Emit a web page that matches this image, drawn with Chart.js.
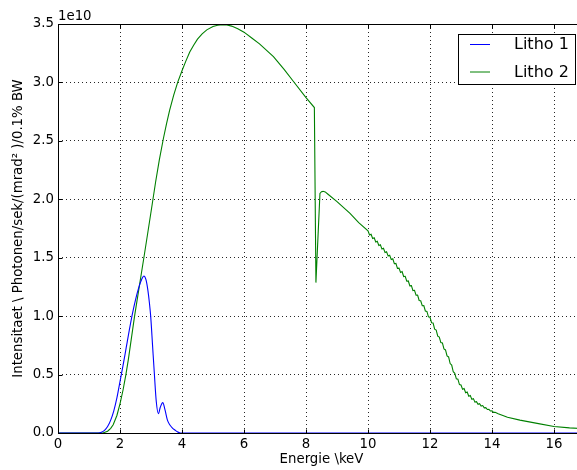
<!DOCTYPE html>
<html>
<head>
<meta charset="utf-8">
<script src="https://cdn.jsdelivr.net/npm/chart.js@4.4.0/dist/chart.umd.min.js"></script>
<style>
  html, body { margin: 0; padding: 0; background: #fff; overflow: hidden; }
  #wrap { width: 577px; height: 470px; overflow: hidden; }
</style>
</head>
<body>
<div id="wrap"><canvas id="chart1" width="590" height="470"></canvas></div>
<script>
// Daten (Intensitaet in Einheiten von 1e10)
const seriesNames = ['Litho 1', 'Litho 2'];
const seriesColors = ['#0000ff', '#008000'];

const litho1Energy = [0, 1.3, 1.4, 1.5, 1.6, 1.7, 1.8, 1.9, 2.0, 2.1, 2.2, 2.3, 2.4, 2.5, 2.6, 2.7, 2.77, 2.84, 2.9, 2.95, 2.99, 3.05, 3.11, 3.17, 3.24, 3.3, 3.38, 3.45, 3.53, 3.61, 3.7, 3.77, 3.85, 3.95, 17];
const litho1Flux = [0, 0, 0.006, 0.022, 0.055, 0.11, 0.19, 0.3, 0.44, 0.58, 0.73, 0.88, 1.02, 1.14, 1.24, 1.315, 1.344, 1.31, 1.22, 1.11, 1.0, 0.75, 0.5, 0.27, 0.165, 0.22, 0.26, 0.2, 0.11, 0.068, 0.04, 0.026, 0.01, 0, 0];

const litho2Energy = [0, 1.45, 1.6, 1.7, 1.78, 1.9, 2.0, 2.1, 2.19, 2.27, 2.47, 2.62, 2.77, 2.9, 3.04, 3.15, 3.27, 3.4, 3.5, 3.6, 3.73, 3.86, 4.0, 4.12, 4.25, 4.38, 4.5, 4.65, 4.8, 5.0, 5.15, 5.3, 5.45, 5.6, 5.8, 6.0, 6.25, 6.5, 6.95, 7.3, 7.59, 8.0, 8.27, 8.32, 8.45, 8.5, 8.55, 8.62, 8.7, 9.0, 9.42, 9.7,
  10.0, 10.05, 10.1, 10.15, 10.2, 10.25, 10.3, 10.35, 10.4, 10.45, 10.5, 10.55, 10.6, 10.65, 10.7, 10.75, 10.8, 10.85, 10.9, 10.95,
  11.0, 11.05, 11.1, 11.15, 11.2, 11.25, 11.3, 11.35, 11.4, 11.45, 11.5, 11.55, 11.6, 11.65, 11.7, 11.75, 11.8, 11.85, 11.9, 11.95,
  12.0, 12.05, 12.1, 12.15, 12.2, 12.25, 12.3, 12.35, 12.4, 12.45, 12.5, 12.55, 12.6, 12.65, 12.7, 12.75, 12.8, 12.85, 12.9, 12.95,
  13.0, 13.05, 13.1, 13.15, 13.2, 13.25, 13.3, 13.35, 13.4, 13.45, 13.5, 13.55, 13.6, 13.65, 13.7, 13.75, 13.8, 13.85, 13.9, 13.95,
  14.0, 14.05, 14.1, 14.2, 14.5, 14.9, 15.5, 16.0, 16.5, 17.0];
const litho2Flux = [0, 0, 0.015, 0.04, 0.07, 0.15, 0.25, 0.37, 0.5, 0.63, 1.0, 1.25, 1.5, 1.72, 1.96, 2.15, 2.34, 2.52, 2.645, 2.76, 2.89, 3.0, 3.1, 3.18, 3.26, 3.32, 3.37, 3.415, 3.45, 3.478, 3.49, 3.495, 3.492, 3.482, 3.46, 3.43, 3.38, 3.33, 3.22, 3.11, 3.01, 2.87, 2.785, 1.287, 2.05, 2.065, 2.068, 2.063, 2.045, 1.98, 1.88, 1.8,
  1.731, 1.694, 1.701, 1.664, 1.671, 1.634, 1.641, 1.604, 1.611, 1.574, 1.581, 1.544, 1.551, 1.514, 1.521, 1.484, 1.491, 1.449, 1.451, 1.409,
  1.411, 1.374, 1.381, 1.339, 1.341, 1.299, 1.301, 1.259, 1.261, 1.219, 1.221, 1.179, 1.181, 1.134, 1.131, 1.089, 1.091, 1.044, 1.041, 0.994,
  0.991, 0.944, 0.941, 0.889, 0.881, 0.829, 0.821, 0.774, 0.771, 0.719, 0.711, 0.659, 0.651, 0.594, 0.581, 0.524, 0.511, 0.464, 0.461, 0.414,
  0.411, 0.374, 0.381, 0.344, 0.351, 0.314, 0.321, 0.288, 0.294, 0.264, 0.268, 0.245, 0.251, 0.231, 0.235, 0.215, 0.217, 0.201, 0.203, 0.188,
  0.19, 0.177, 0.178, 0.165, 0.135, 0.11, 0.08, 0.055, 0.044, 0.036];

const xTicks = [0, 2, 4, 6, 8, 10, 12, 14, 16];
const yTicks = [0, 0.5, 1.0, 1.5, 2.0, 2.5, 3.0, 3.5];

const FONT = 'DejaVu Sans';

function toPoints(xs, ys) {
  return xs.map((v, i) => ({ x: v, y: ys[i] }));
}

// Rahmen, Ticks nach innen, Offset-Text und Legende
const frame = {
  id: 'frame',
  afterDatasetsDraw(chart) {
    const { ctx, chartArea: a, scales: { x, y } } = chart;
    ctx.save();
    ctx.strokeStyle = '#000';
    ctx.lineWidth = 1;
    const l = Math.round(a.left) + 0.5, r = Math.round(a.right) + 0.5;
    const t = Math.round(a.top) + 0.5, b = Math.round(a.bottom) + 0.5;
    ctx.strokeRect(l, t, r - l, b - t);
    ctx.beginPath();
    xTicks.forEach(v => {
      const px = Math.round(x.getPixelForValue(v)) + 0.5;
      ctx.moveTo(px, t); ctx.lineTo(px, t + 4);
      ctx.moveTo(px, b); ctx.lineTo(px, b - 4);
    });
    yTicks.forEach(v => {
      const py = Math.round(y.getPixelForValue(v)) + 0.5;
      ctx.moveTo(l, py); ctx.lineTo(l + 4, py);
      ctx.moveTo(r, py); ctx.lineTo(r - 4, py);
    });
    ctx.stroke();
    ctx.restore();
  },
  afterDraw(chart) {
    const { ctx, chartArea: a } = chart;
    ctx.save();
    ctx.fillStyle = '#000';
    ctx.font = '13.3px "' + FONT + '"';
    ctx.textAlign = 'left';
    ctx.textBaseline = 'alphabetic';
    ctx.fillText('1e10', a.left, a.top - 4);

    // Legende
    const bx = 458.5, by = 34.5, bw = 117, bh = 50;
    ctx.fillStyle = '#fff';
    ctx.fillRect(bx, by, bw, bh);
    ctx.strokeStyle = '#000';
    ctx.lineWidth = 1;
    ctx.strokeRect(bx, by, bw, bh);
    ctx.font = '16px "' + FONT + '"';
    ctx.textBaseline = 'middle';
    chart.data.datasets.forEach((ds, i) => {
      const cy = 44 + i * 27.5;
      ctx.strokeStyle = ds.borderColor;
      ctx.beginPath();
      ctx.moveTo(470, cy + 0.5);
      ctx.lineTo(490, cy + 0.5);
      ctx.stroke();
      ctx.fillStyle = '#000';
      ctx.fillText(ds.label, 514, cy + 1);
    });
    ctx.restore();
  }
};

const gridStyle = {
  color: 'rgba(0,0,0,0.85)',
  lineWidth: 1,
  drawTicks: false
};
const borderStyle = { display: false, dash: [1, 3] };

new Chart(document.getElementById('chart1'), {
  type: 'line',
  data: {
    datasets: [
      {
        label: seriesNames[0],
        data: toPoints(litho1Energy, litho1Flux),
        borderColor: seriesColors[0],
        borderWidth: 1.1,
        pointRadius: 0,
        cubicInterpolationMode: 'monotone',
        fill: false
      },
      {
        label: seriesNames[1],
        data: toPoints(litho2Energy, litho2Flux),
        borderColor: seriesColors[1],
        borderWidth: 1.1,
        pointRadius: 0,
        tension: 0,
        fill: false
      }
    ]
  },
  options: {
    responsive: false,
    animation: false,
    devicePixelRatio: 1,
    layout: { padding: { top: 24, right: 5, left: 0, bottom: 0 } },
    plugins: {
      legend: { display: false },
      tooltip: { enabled: false }
    },
    scales: {
      x: {
        type: 'linear',
        min: 0,
        max: 17,
        afterBuildTicks: s => { s.ticks = xTicks.map(v => ({ value: v })); },
        afterFit: s => { s.height = 37; },
        ticks: {
          color: '#000',
          font: { family: FONT, size: 13.3 },
          padding: 4,
          maxRotation: 0,
          callback: v => String(v)
        },
        grid: gridStyle,
        border: borderStyle,
        title: {
          display: true,
          text: 'Energie \\keV',
          color: '#000',
          font: { family: FONT, size: 13.3 },
          padding: { top: 0, bottom: 2 }
        }
      },
      y: {
        min: 0,
        max: 3.5,
        afterBuildTicks: s => { s.ticks = yTicks.map(v => ({ value: v })); },
        afterFit: s => { s.width = 58; },
        ticks: {
          color: '#000',
          font: { family: FONT, size: 13.3 },
          padding: 4,
          callback: v => v.toFixed(1)
        },
        grid: gridStyle,
        border: borderStyle,
        title: {
          display: true,
          text: 'Intensitaet \\ Photonen/sek/(mrad² )/0.1% BW',
          color: '#000',
          font: { family: FONT, size: 13.3 },
          padding: { top: 11, bottom: 0 }
        }
      }
    }
  },
  plugins: [frame]
});
</script>
</body>
</html>
